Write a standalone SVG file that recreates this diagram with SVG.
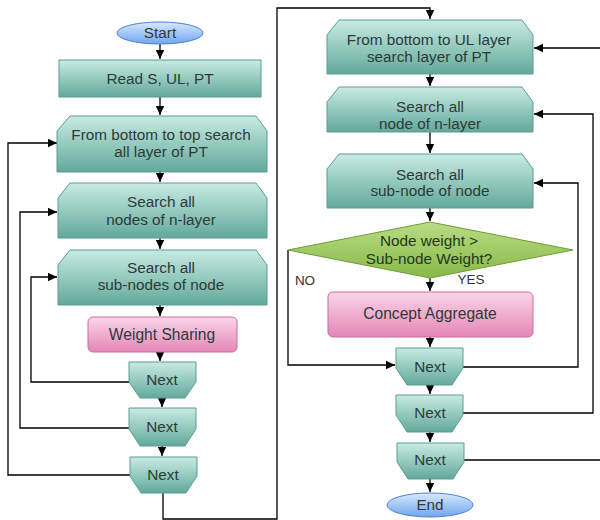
<svg xmlns="http://www.w3.org/2000/svg" width="600" height="520" viewBox="0 0 600 520">
<defs>
<linearGradient id="gTeal" x1="0" y1="0" x2="0" y2="1"><stop offset="0" stop-color="#c8ebe2"/><stop offset="1" stop-color="#62a99b"/></linearGradient>
<linearGradient id="gPink" x1="0" y1="0" x2="0" y2="1"><stop offset="0" stop-color="#fad6e8"/><stop offset="1" stop-color="#e486b6"/></linearGradient>
<linearGradient id="gGreen" x1="0" y1="0" x2="0" y2="1"><stop offset="0" stop-color="#b9dc84"/><stop offset="1" stop-color="#86b948"/></linearGradient>
<linearGradient id="gBlue" x1="0" y1="0" x2="0" y2="1"><stop offset="0" stop-color="#d8e9ff"/><stop offset="1" stop-color="#6ea6ee"/></linearGradient>
<marker id="arr" markerWidth="10" markerHeight="10" refX="9" refY="5" orient="auto" markerUnits="userSpaceOnUse"><path d="M0,0.8 L9,5 L0,9.2 Z" fill="#000"/></marker>
</defs>
<style>
.teal{fill:url(#gTeal);stroke:#5a9d90;stroke-width:1}
.pink{fill:url(#gPink);stroke:#cc6d9c;stroke-width:1}
.green{fill:url(#gGreen);stroke:#6f9d36;stroke-width:1}
.blue{fill:url(#gBlue);stroke:#4b82cf;stroke-width:1}
text{font-family:"Liberation Sans",Arial,sans-serif;font-size:15.3px;fill:#2f3a38;text-anchor:middle}
.big{font-size:15.6px}
.lbl{font-size:13.5px;fill:#333}
.dt{fill:#24381c}
.c{fill:none;stroke:#000;stroke-width:1.3}
.a{marker-end:url(#arr)}
</style>
<g id="connectors">
<path class="c a" d="M160,44 V59"/>
<path class="c a" d="M160,97 V115"/>
<path class="c a" d="M160,172 V182"/>
<path class="c a" d="M160,238 V249"/>
<path class="c a" d="M160,305 V316"/>
<path class="c a" d="M160,352 V361"/>
<path class="c a" d="M162,398 V407"/>
<path class="c a" d="M162,446 V456"/>
<path class="c a" d="M129,382 H31 V277 H57"/>
<path class="c a" d="M129,428 H20 V212 H57"/>
<path class="c a" d="M130,475 H8 V143 H57"/>
<path class="c a" d="M163,493 V519 H277 V8 H430 V19"/>
<path class="c a" d="M430,74 V86"/>
<path class="c a" d="M430,132 V153"/>
<path class="c a" d="M430,208 V221"/>
<path class="c a" d="M430,278 V291"/>
<path class="c a" d="M430,337 V347"/>
<path class="c a" d="M430,385 V394"/>
<path class="c a" d="M430,432 V442"/>
<path class="c a" d="M430,479 V492"/>
<path class="c a" d="M288,250 V365 H395"/>
<path class="c a" d="M463,367 H578 V183 H534"/>
<path class="c a" d="M463,413 H593 V114 H534"/>
<path class="c a" d="M463,460 H604 V48 H534"/>
</g>
<g id="start"><ellipse class="blue" cx="160" cy="33" rx="43" ry="11"/><text x="160" y="38">Start</text></g>
<g id="read"><rect class="teal" x="59" y="60" width="202" height="37"/><text x="160" y="84">Read S, UL, PT</text></g>
<g id="fromTop"><path class="teal" d="M70,116 H256 L267,131 V172 H57 V131 Z"/><text x="161" y="140">From bottom to top search</text><text x="161" y="157">all layer of PT</text></g>
<g id="searchNodes"><path class="teal" d="M70,183 H256 L267,198 V238 H58 V198 Z"/><text x="161" y="207">Search all</text><text x="161" y="225">nodes of n-layer</text></g>
<g id="searchSub"><path class="teal" d="M70,250 H256 L267,265 V305 H58 V265 Z"/><text x="161" y="273">Search all</text><text x="161" y="290">sub-nodes of node</text></g>
<g id="weightSharing"><rect class="pink" x="88" y="317" width="149" height="35" rx="5"/><text class="big" x="162" y="340">Weight Sharing</text></g>
<g id="next1"><path class="teal" d="M129,362 H196 V382 L185,398 H140 L129,382 Z"/><text x="162" y="385">Next</text></g>
<g id="next2"><path class="teal" d="M129,408 H196 V429 L185,446 H140 L129,429 Z"/><text x="162" y="432">Next</text></g>
<g id="next3"><path class="teal" d="M130,457 H197 V476 L186,493 H141 L130,476 Z"/><text x="163" y="480">Next</text></g>
<g id="fromUL"><path class="teal" d="M339,20 H522 L533,35 V74 H327 V35 Z"/><text x="429" y="45">From bottom to UL layer</text><text x="429" y="62">search layer of PT</text></g>
<g id="searchNode"><path class="teal" d="M339,87 H522 L533,102 V132 H327 V102 Z"/><text x="430" y="112">Search all</text><text x="430" y="129">node of n-layer</text></g>
<g id="searchSubR"><path class="teal" d="M339,154 H522 L533,169 V208 H327 V169 Z"/><text x="430" y="180">Search all</text><text x="430" y="196">sub-node of node</text></g>
<g id="decision"><path class="green" d="M430,222 L573,250 L430,278 L288,250 Z"/><text class="dt" x="429" y="246">Node weight &gt;</text><text class="dt" x="429" y="264">Sub-node Weight?</text><text class="lbl" x="305" y="285">NO</text><text class="lbl" x="471" y="284">YES</text></g>
<g id="concept"><rect class="pink" x="328" y="292" width="205" height="45" rx="5"/><text class="big" x="430" y="319">Concept Aggregate</text></g>
<g id="nextR1"><path class="teal" d="M396,348 H463 V368 L452,385 H407 L396,368 Z"/><text x="430" y="372">Next</text></g>
<g id="nextR2"><path class="teal" d="M396,395 H463 V415 L452,432 H407 L396,415 Z"/><text x="430" y="418">Next</text></g>
<g id="nextR3"><path class="teal" d="M397,443 H464 V462 L453,479 H408 L397,462 Z"/><text x="430" y="465">Next</text></g>
<g id="end"><ellipse class="blue" cx="430" cy="505" rx="43" ry="12"/><text x="430" y="510">End</text></g>
</svg>
